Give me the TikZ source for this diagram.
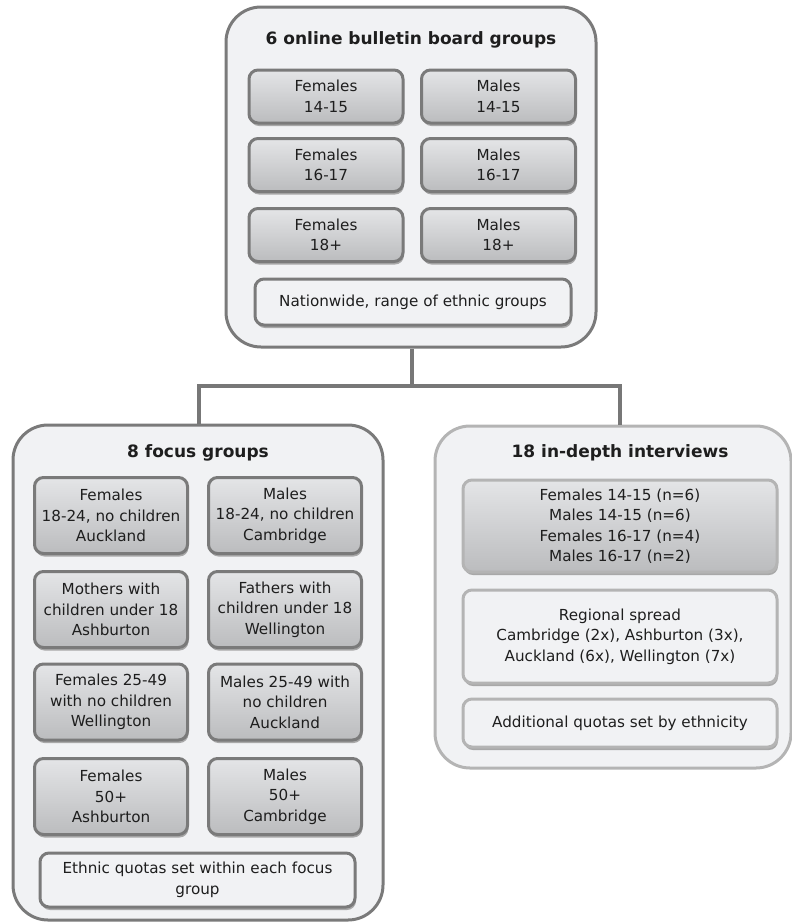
\documentclass[tikz,border=0pt]{standalone}
\usepackage{fontspec}
\setmainfont{DejaVu Sans}
\usetikzlibrary{positioning}
\definecolor{outerfill}{HTML}{F1F2F4}
\definecolor{darkedge}{HTML}{7A7A7A}
\definecolor{lightedge}{HTML}{B4B4B4}
\definecolor{gradtop}{HTML}{E4E5E7}
\definecolor{gradbot}{HTML}{BBBCBE}
\definecolor{txt}{HTML}{1E1E1E}
\definecolor{linkcol}{HTML}{777777}
\definecolor{shadowcol}{HTML}{A8A8A8}
\tikzset{
  outerbox/.style={draw=darkedge, line width=3pt, fill=outerfill, rounded corners=35pt, inner sep=0pt},
  outerlight/.style={outerbox, draw=lightedge},
  gbox/.style={draw=darkedge, line width=3pt, rounded corners=9pt, top color=gradtop, bottom color=gradbot,
    align=center, font=\fontsize{15.2}{20.5}\selectfont, text=txt, inner sep=0pt},
  wbox/.style={draw=darkedge, line width=3pt, rounded corners=9pt, fill=outerfill,
    align=center, font=\fontsize{15.2}{20.5}\selectfont, text=txt, inner sep=0pt},
  gboxl/.style={gbox, draw=lightedge},
  wboxl/.style={wbox, draw=lightedge},
  titletext/.style={font=\bfseries\fontsize{17}{20}\selectfont, text=txt},
  link/.style={draw=linkcol, line width=4pt},
}
\newcommand{\boxshadow}[4]{% cx, cy, w, h
  \fill[shadowcol, rounded corners=9pt] (#1-#3/2+1,#2-#4/2+3) rectangle (#1+#3/2+1,#2+#4/2+3);
}
\begin{document}
\begin{tikzpicture}[x=1pt,y=-1pt]
\useasboundingbox (0,0) rectangle (792,922);
% top box
\node[outerbox, minimum width=370pt, minimum height=340pt] (top) at (411,177) {};
\node[titletext] (toptitle) at (411,40) {6 online bulletin board groups};
\foreach \cx/\cy/\nm/\t in {326/96.5/f1/{Females\\14-15}, 498.5/96.5/m1/{Males\\14-15},
  326/165/f2/{Females\\16-17}, 498.5/165/m2/{Males\\16-17},
  326/235/f3/{Females\\18+}, 498.5/235/m3/{Males\\18+}}{
  \boxshadow{\cx}{\cy}{154}{53}
  \node[gbox, minimum width=154pt, minimum height=53pt] (\nm) at (\cx,\cy) {\t};
}
\boxshadow{413}{302}{316}{46}
\node[wbox, minimum width=316pt, minimum height=46pt] (nation) at (413,302) {Nationwide, range of ethnic groups};

% focus box
\node[outerbox, minimum width=370pt, minimum height=495pt] (focus) at (198,672.5) {};
\node[titletext] (focustitle) at (198,453) {8 focus groups};
\foreach \cx/\cy/\nm/\t in {111/515.5/a1/{Females\\18-24, no children\\Auckland}, 285/515.5/b1/{Males\\18-24, no children\\Cambridge},
  111/609.5/a2/{Mothers with\\children under 18\\Ashburton}, 285/609.5/b2/{Fathers with\\children under 18\\Wellington},
  111/702/a3/{Females 25-49\\with no children\\Wellington}, 285/702/b3/{Males 25-49 with\\no children\\Auckland},
  111/796.5/a4/{Females\\50+\\Ashburton}, 285/796.5/b4/{Males\\50+\\Cambridge}}{
  \boxshadow{\cx}{\cy}{153}{76}
  \node[gbox, minimum width=153pt, minimum height=76pt] (\nm) at (\cx,\cy) {\t};
}
\boxshadow{197.5}{880}{315}{54}
\node[wbox, minimum width=315pt, minimum height=54pt] (ethnic) at (197.5,880) {Ethnic quotas set within each focus\\group};

% interviews box
\node[outerlight, minimum width=356pt, minimum height=342pt] (inter) at (613,597) {};
\node[titletext] (intertitle) at (620,453) {18 in-depth interviews};
\boxshadow{620}{526}{314}{92}
\node[gboxl, minimum width=314pt, minimum height=92pt] (quota) at (620,526) {Females 14-15 (n=6)\\Males 14-15 (n=6)\\Females 16-17 (n=4)\\Males 16-17 (n=2)};
\boxshadow{620}{636.5}{314}{93}
\node[wboxl, minimum width=314pt, minimum height=93pt] (region) at (620,636.5) {Regional spread\\Cambridge (2x), Ashburton (3x),\\Auckland (6x), Wellington (7x)};
\boxshadow{620}{723}{314}{48}
\node[wboxl, minimum width=314pt, minimum height=48pt] (addq) at (620,723) {Additional quotas set by ethnicity};

% connectors
\coordinate (hub) at (412,386);
\coordinate (hl) at (199,386);
\coordinate (hr) at (620,386);
\draw[link] (top.south -| hub) -- (hub);
\draw[link] ([xshift=-2pt]hl) -- ([xshift=2pt]hr);
\draw[link] (hl) -- (hl |- focus.north);
\draw[link] (hr) -- (hr |- inter.north);
\end{tikzpicture}
\end{document}
